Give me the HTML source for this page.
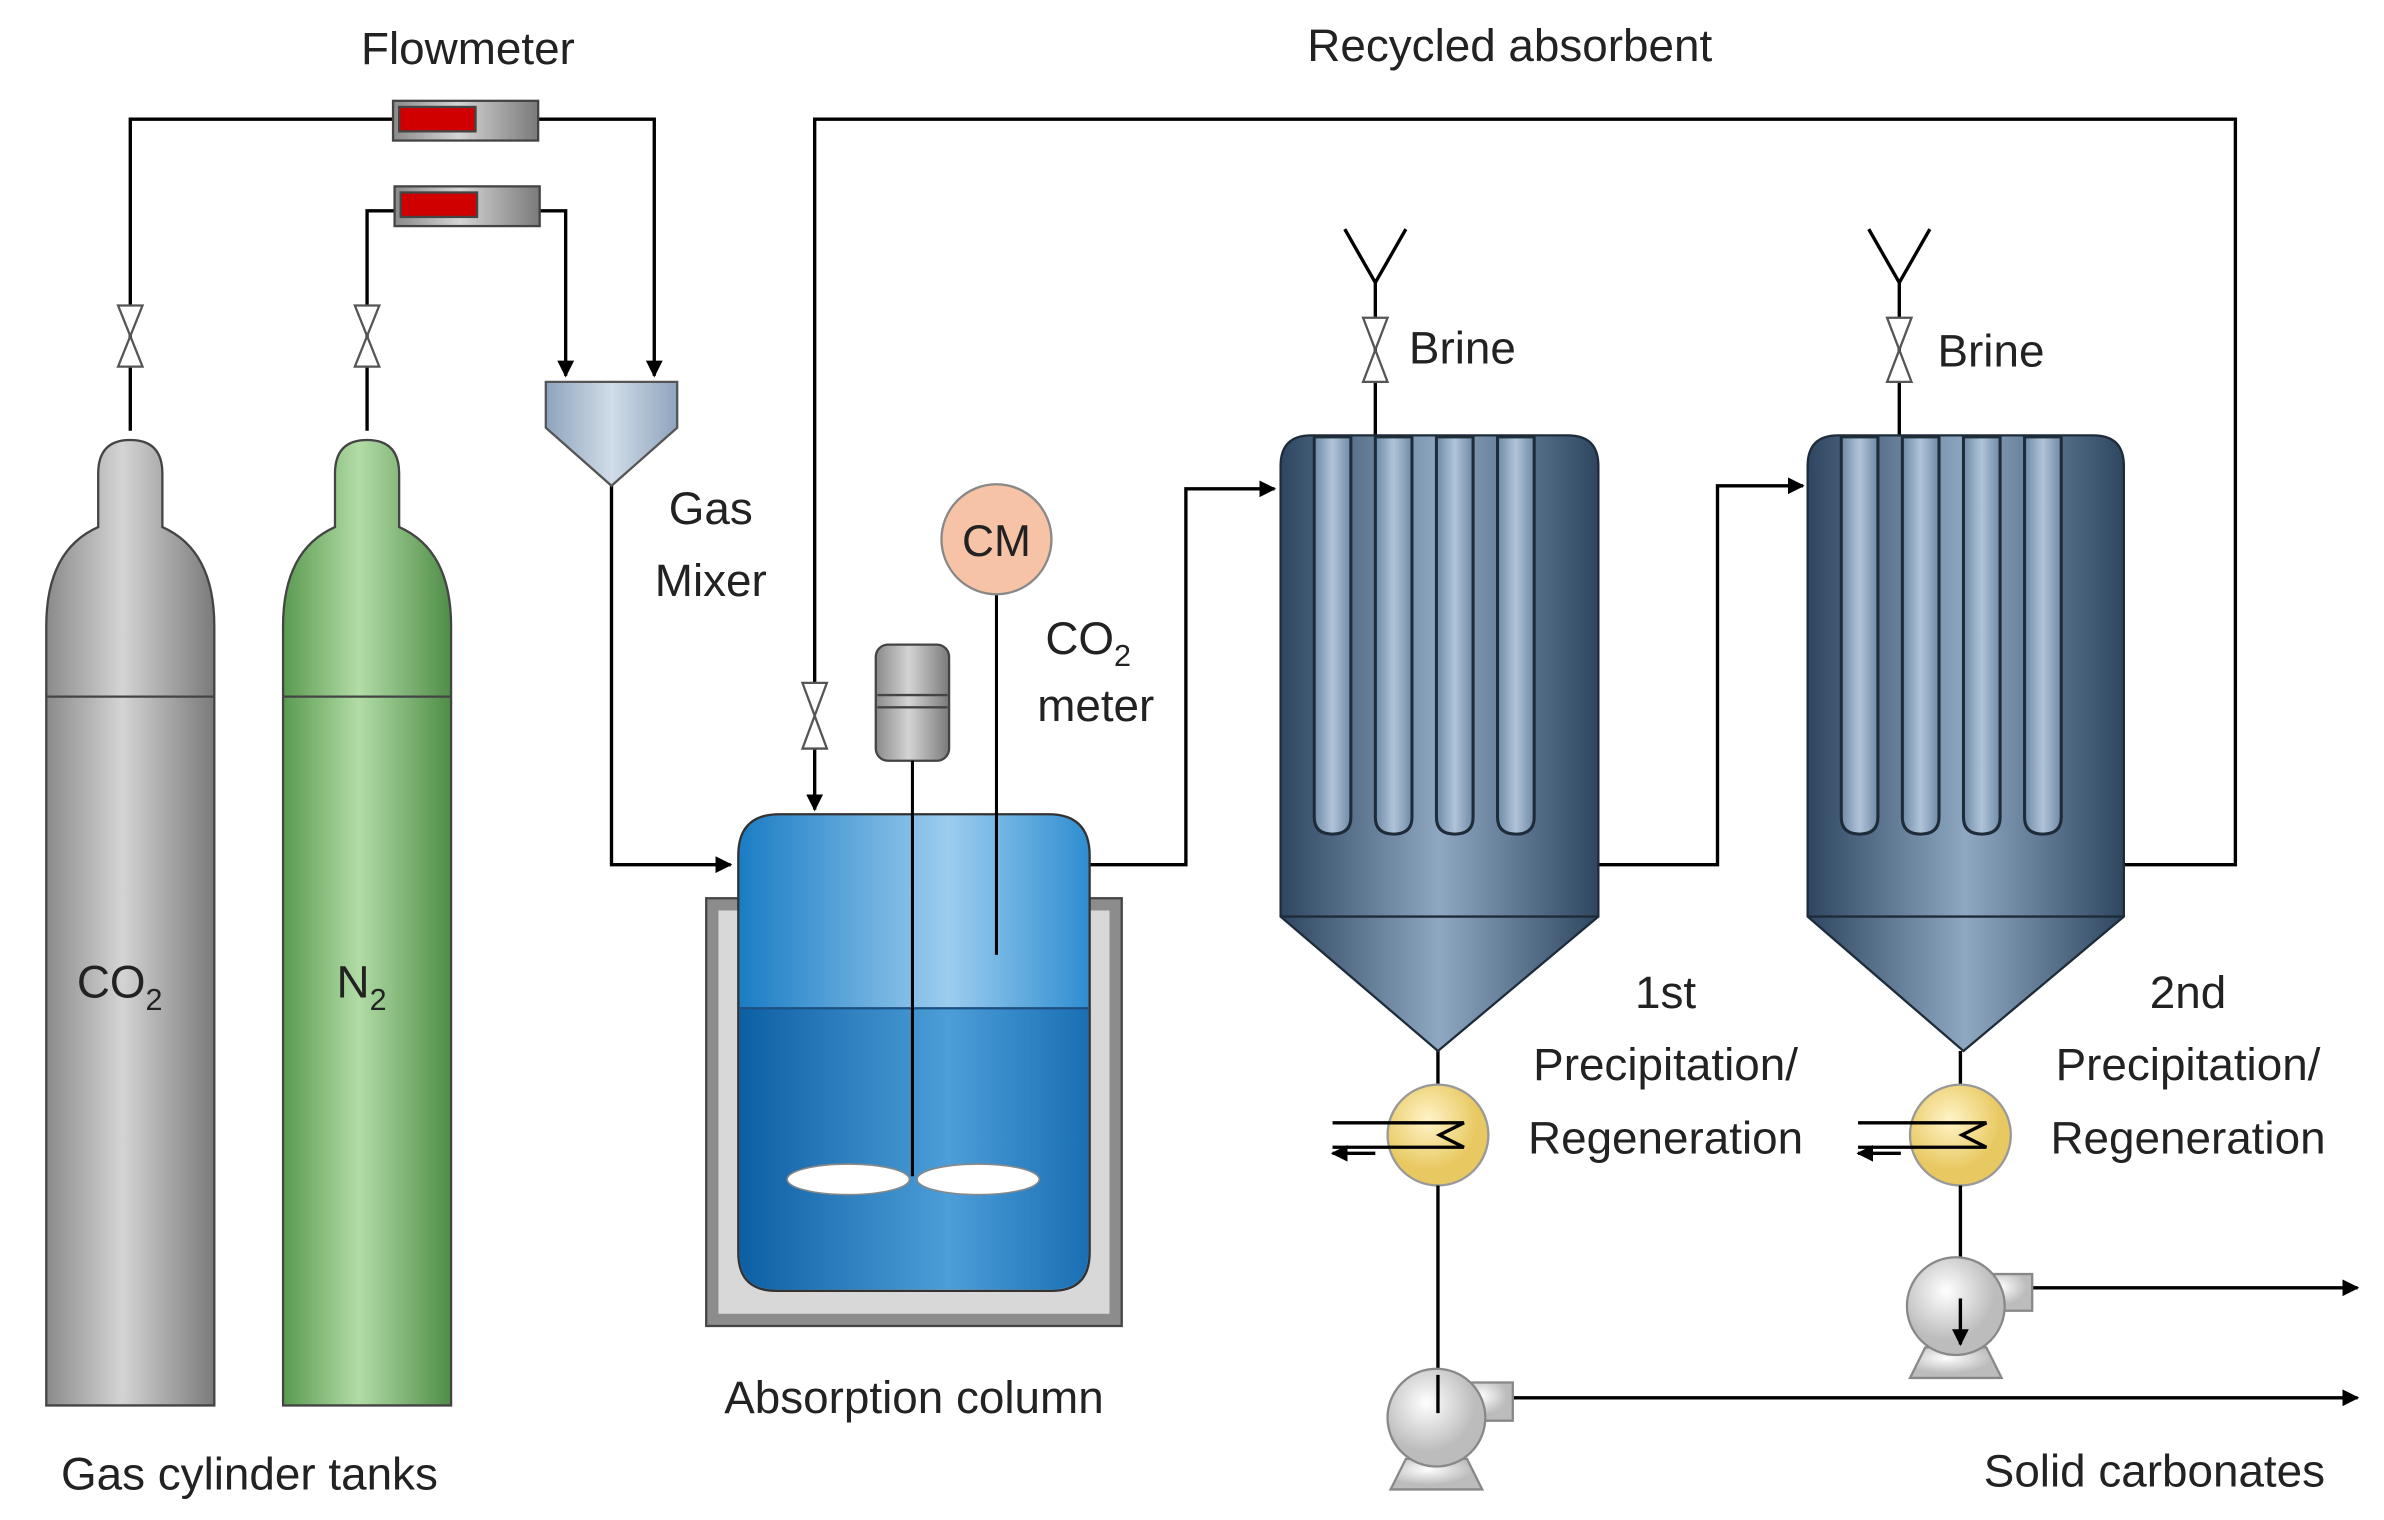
<!DOCTYPE html>
<html><head><meta charset="utf-8"><style>html,body{margin:0;padding:0;background:#fff}svg{display:block}text{font-family:"Liberation Sans",sans-serif;fill:#222}</style></head>
<body>
<svg width="2384" height="1520" viewBox="0 0 1560 995" xmlns="http://www.w3.org/2000/svg">
<defs>
<linearGradient id="gr" x1="0" x2="1"><stop offset="0" stop-color="#8a8a8a"/><stop offset=".45" stop-color="#d4d4d4"/><stop offset="1" stop-color="#7a7a7a"/></linearGradient>
<linearGradient id="gn" x1="0" x2="1"><stop offset="0" stop-color="#5a9a50"/><stop offset=".45" stop-color="#b2dca6"/><stop offset="1" stop-color="#4f8d47"/></linearGradient>
<linearGradient id="bt" x1="0" x2="1"><stop offset="0" stop-color="#2e4660"/><stop offset=".5" stop-color="#8fa8c2"/><stop offset="1" stop-color="#2e4660"/></linearGradient>
<linearGradient id="tb" x1="0" x2="1"><stop offset="0" stop-color="#6f8aa6"/><stop offset=".5" stop-color="#b0c4d8"/><stop offset="1" stop-color="#6f8aa6"/></linearGradient>
<linearGradient id="bl" x1="0" x2="1"><stop offset="0" stop-color="#1a7cc4"/><stop offset=".6" stop-color="#9ccdef"/><stop offset="1" stop-color="#2e8dd0"/></linearGradient>
<linearGradient id="bd" x1="0" x2="1"><stop offset="0" stop-color="#0d5fa4"/><stop offset=".6" stop-color="#4c9ed8"/><stop offset="1" stop-color="#1a6fb4"/></linearGradient>
<linearGradient id="mx" x1="0" x2="1"><stop offset="0" stop-color="#8ea4bd"/><stop offset=".5" stop-color="#d0dce8"/><stop offset="1" stop-color="#8ea4bd"/></linearGradient>
<radialGradient id="yl" cx=".4" cy=".35"><stop offset="0" stop-color="#fff4c8"/><stop offset="1" stop-color="#e8c860"/></radialGradient>
<radialGradient id="pm" cx=".4" cy=".35"><stop offset="0" stop-color="#fff"/><stop offset="1" stop-color="#bcbcbc"/></radialGradient>
<marker id="a" viewBox="0 0 10 10" refX="9" refY="5" markerWidth="5" markerHeight="5" orient="auto"><path d="M0,0L10,5L0,10z" fill="#000"/></marker>
</defs>
<g fill="none" stroke="#000" stroke-width="2.2">
<path d="M85,282V78H257M352,78H428V246" marker-end="url(#a)"/>
<path d="M240,282V138H258M353,138H370V246" marker-end="url(#a)"/>
<path d="M400,318V566H478" marker-end="url(#a)"/>
<path d="M533,490V530" marker-end="url(#a)"/>
<path d="M533,447V78H1463V566H1390"/>
<path d="M713,566H776V320H834" marker-end="url(#a)"/>
<path d="M1046,566H1124V318H1180" marker-end="url(#a)"/>
<path d="M900,285V185M880,150L900,185L920,150"/>
<path d="M1243,285V185M1223,150L1243,185L1263,150"/>
<path d="M941,688V710"/>
<path d="M1283,688V710"/>
<path d="M972,915H1543" marker-end="url(#a)"/>
<path d="M1312,843H1543" marker-end="url(#a)"/>
<path d="M900,755H872" marker-end="url(#a)"/>
<path d="M1244,755H1216" marker-end="url(#a)"/>
</g>
<g fill="#fff" stroke="#555" stroke-width="1.5">
<path d="M77,200H93L77,240H93z"/><path d="M232,200H248L232,240H248z"/>
<path d="M525,447H541L525,490H541z"/>
<path d="M892,208H908L892,250H908z"/><path d="M1235,208H1251L1235,250H1251z"/>
</g>
<g stroke="#444" stroke-width="1.5">
<rect x="257" y="66" width="95" height="26" fill="url(#gr)"/><rect x="261" y="70" width="50" height="16" fill="#d00000"/>
<rect x="258" y="122" width="95" height="26" fill="url(#gr)"/><rect x="262" y="126" width="50" height="16" fill="#d00000"/>
</g>
<path d="M357,250H443V280L400,318L357,280z" fill="url(#mx)" stroke="#555" stroke-width="1.5"/>
<g stroke="#444" stroke-width="1.5">
<path d="M64,345V310Q64,288 85,288Q106,288 106,310V345Q140,360 140,410V920H30V410Q30,360 64,345z" fill="url(#gr)"/>
<path d="M30,456H140" />
<path d="M219,345V310Q219,288 240,288Q261,288 261,310V345Q295,360 295,410V920H185V410Q185,360 219,345z" fill="url(#gn)"/>
<path d="M185,456H295"/>
</g>
<rect x="462" y="588" width="272" height="280" fill="#8c8c8c" stroke="#444" stroke-width="1.5"/>
<rect x="470" y="596" width="256" height="264" fill="#d8d8d8"/>
<path d="M483,560Q483,533 510,533H686Q713,533 713,560V820Q713,845 688,845H508Q483,845 483,820z" fill="url(#bl)" stroke="#333" stroke-width="1.5"/>
<path d="M484,660H712V820Q712,844 688,844H508Q484,844 484,820z" fill="url(#bd)"/>
<line x1="484" y1="660" x2="712" y2="660" stroke="#1d4f80" stroke-width="1.5"/>
<rect x="573" y="422" width="48" height="76" rx="8" fill="url(#gr)" stroke="#444" stroke-width="1.5"/>
<path d="M574,455H620M574,463H620" stroke="#444" stroke-width="1.5"/>
<path d="M597,498V770M652,389V625" stroke="#000" stroke-width="2"/>
<ellipse cx="555" cy="772" rx="40" ry="10" fill="#fff" stroke="#888"/>
<ellipse cx="640" cy="772" rx="40" ry="10" fill="#fff" stroke="#888"/>
<circle cx="652" cy="353" r="36" fill="#f7c3a6" stroke="#888" stroke-width="1.5"/>
<g stroke="#1e2c3a" stroke-width="1.5">
<path d="M838,305Q838,285 858,285H1026Q1046,285 1046,305V600L941,688L838,600z" fill="url(#bt)"/>
<path d="M838,600H1046"/>
<path d="M1183,305Q1183,285 1203,285H1370Q1390,285 1390,305V600L1285,688L1183,600z" fill="url(#bt)"/>
<path d="M1183,600H1390"/>
</g>
<g fill="url(#tb)" stroke="#1e2c3a" stroke-width="2">
<path d="M860,286V535Q860,546 872,546Q884,546 884,535V286z"/>
<path d="M900,286V535Q900,546 912,546Q924,546 924,535V286z"/>
<path d="M940,286V535Q940,546 952,546Q964,546 964,535V286z"/>
<path d="M980,286V535Q980,546 992,546Q1004,546 1004,535V286z"/>
<path d="M1205,286V535Q1205,546 1217,546Q1229,546 1229,535V286z"/>
<path d="M1245,286V535Q1245,546 1257,546Q1269,546 1269,535V286z"/>
<path d="M1285,286V535Q1285,546 1297,546Q1309,546 1309,535V286z"/>
<path d="M1325,286V535Q1325,546 1337,546Q1349,546 1349,535V286z"/>
</g>
<circle cx="941" cy="743" r="33" fill="url(#yl)" stroke="#999" stroke-width="1.5"/>
<circle cx="1283" cy="743" r="33" fill="url(#yl)" stroke="#999" stroke-width="1.5"/>
<g fill="none" stroke="#000" stroke-width="2.2">
<path d="M872,735H958L942,743L958,751H872"/>
<path d="M1216,735H1300L1284,743L1300,751H1216"/>
<path d="M941,776V925" marker-end="url(#a)"/><path d="M1283,776V880" marker-end="url(#a)"/>
</g>
<g stroke="#888" stroke-width="1.5" fill="url(#pm)">
<path d="M920,955H960L970,975H910z"/><path d="M955,905H990V930H955z"/>
<circle cx="940" cy="928" r="32"/>
<path d="M1260,882H1300L1310,902H1250z"/><path d="M1295,834H1330V858H1295z"/>
<circle cx="1280" cy="855" r="32"/>
</g>
<path d="M941,900V925M1283,850V880" stroke="#000" stroke-width="2.2" marker-end="url(#a)"/>
<g font-size="30">
<text x="306" y="42" text-anchor="middle">Flowmeter</text>
<text x="988" y="40" text-anchor="middle">Recycled absorbent</text>
<text x="465" y="343" text-anchor="middle">Gas</text>
<text x="465" y="390" text-anchor="middle">Mixer</text>
<text x="652" y="364" text-anchor="middle" font-size="29">CM</text>
<text x="684" y="428">CO<tspan font-size="20" dy="8">2</tspan></text>
<text x="717" y="472" text-anchor="middle">meter</text>
<text x="50" y="653">CO<tspan font-size="20" dy="8">2</tspan></text>
<text x="220" y="653">N<tspan font-size="20" dy="8">2</tspan></text>
<text x="163" y="975" text-anchor="middle">Gas cylinder tanks</text>
<text x="598" y="925" text-anchor="middle">Absorption column</text>
<text x="922" y="238">Brine</text>
<text x="1268" y="240">Brine</text>
<text x="1090" y="660" text-anchor="middle">1st</text>
<text x="1090" y="707" text-anchor="middle">Precipitation/</text>
<text x="1090" y="755" text-anchor="middle">Regeneration</text>
<text x="1432" y="660" text-anchor="middle">2nd</text>
<text x="1432" y="707" text-anchor="middle">Precipitation/</text>
<text x="1432" y="755" text-anchor="middle">Regeneration</text>
<text x="1410" y="973" text-anchor="middle">Solid carbonates</text>
</g>
</svg>
</body></html>
